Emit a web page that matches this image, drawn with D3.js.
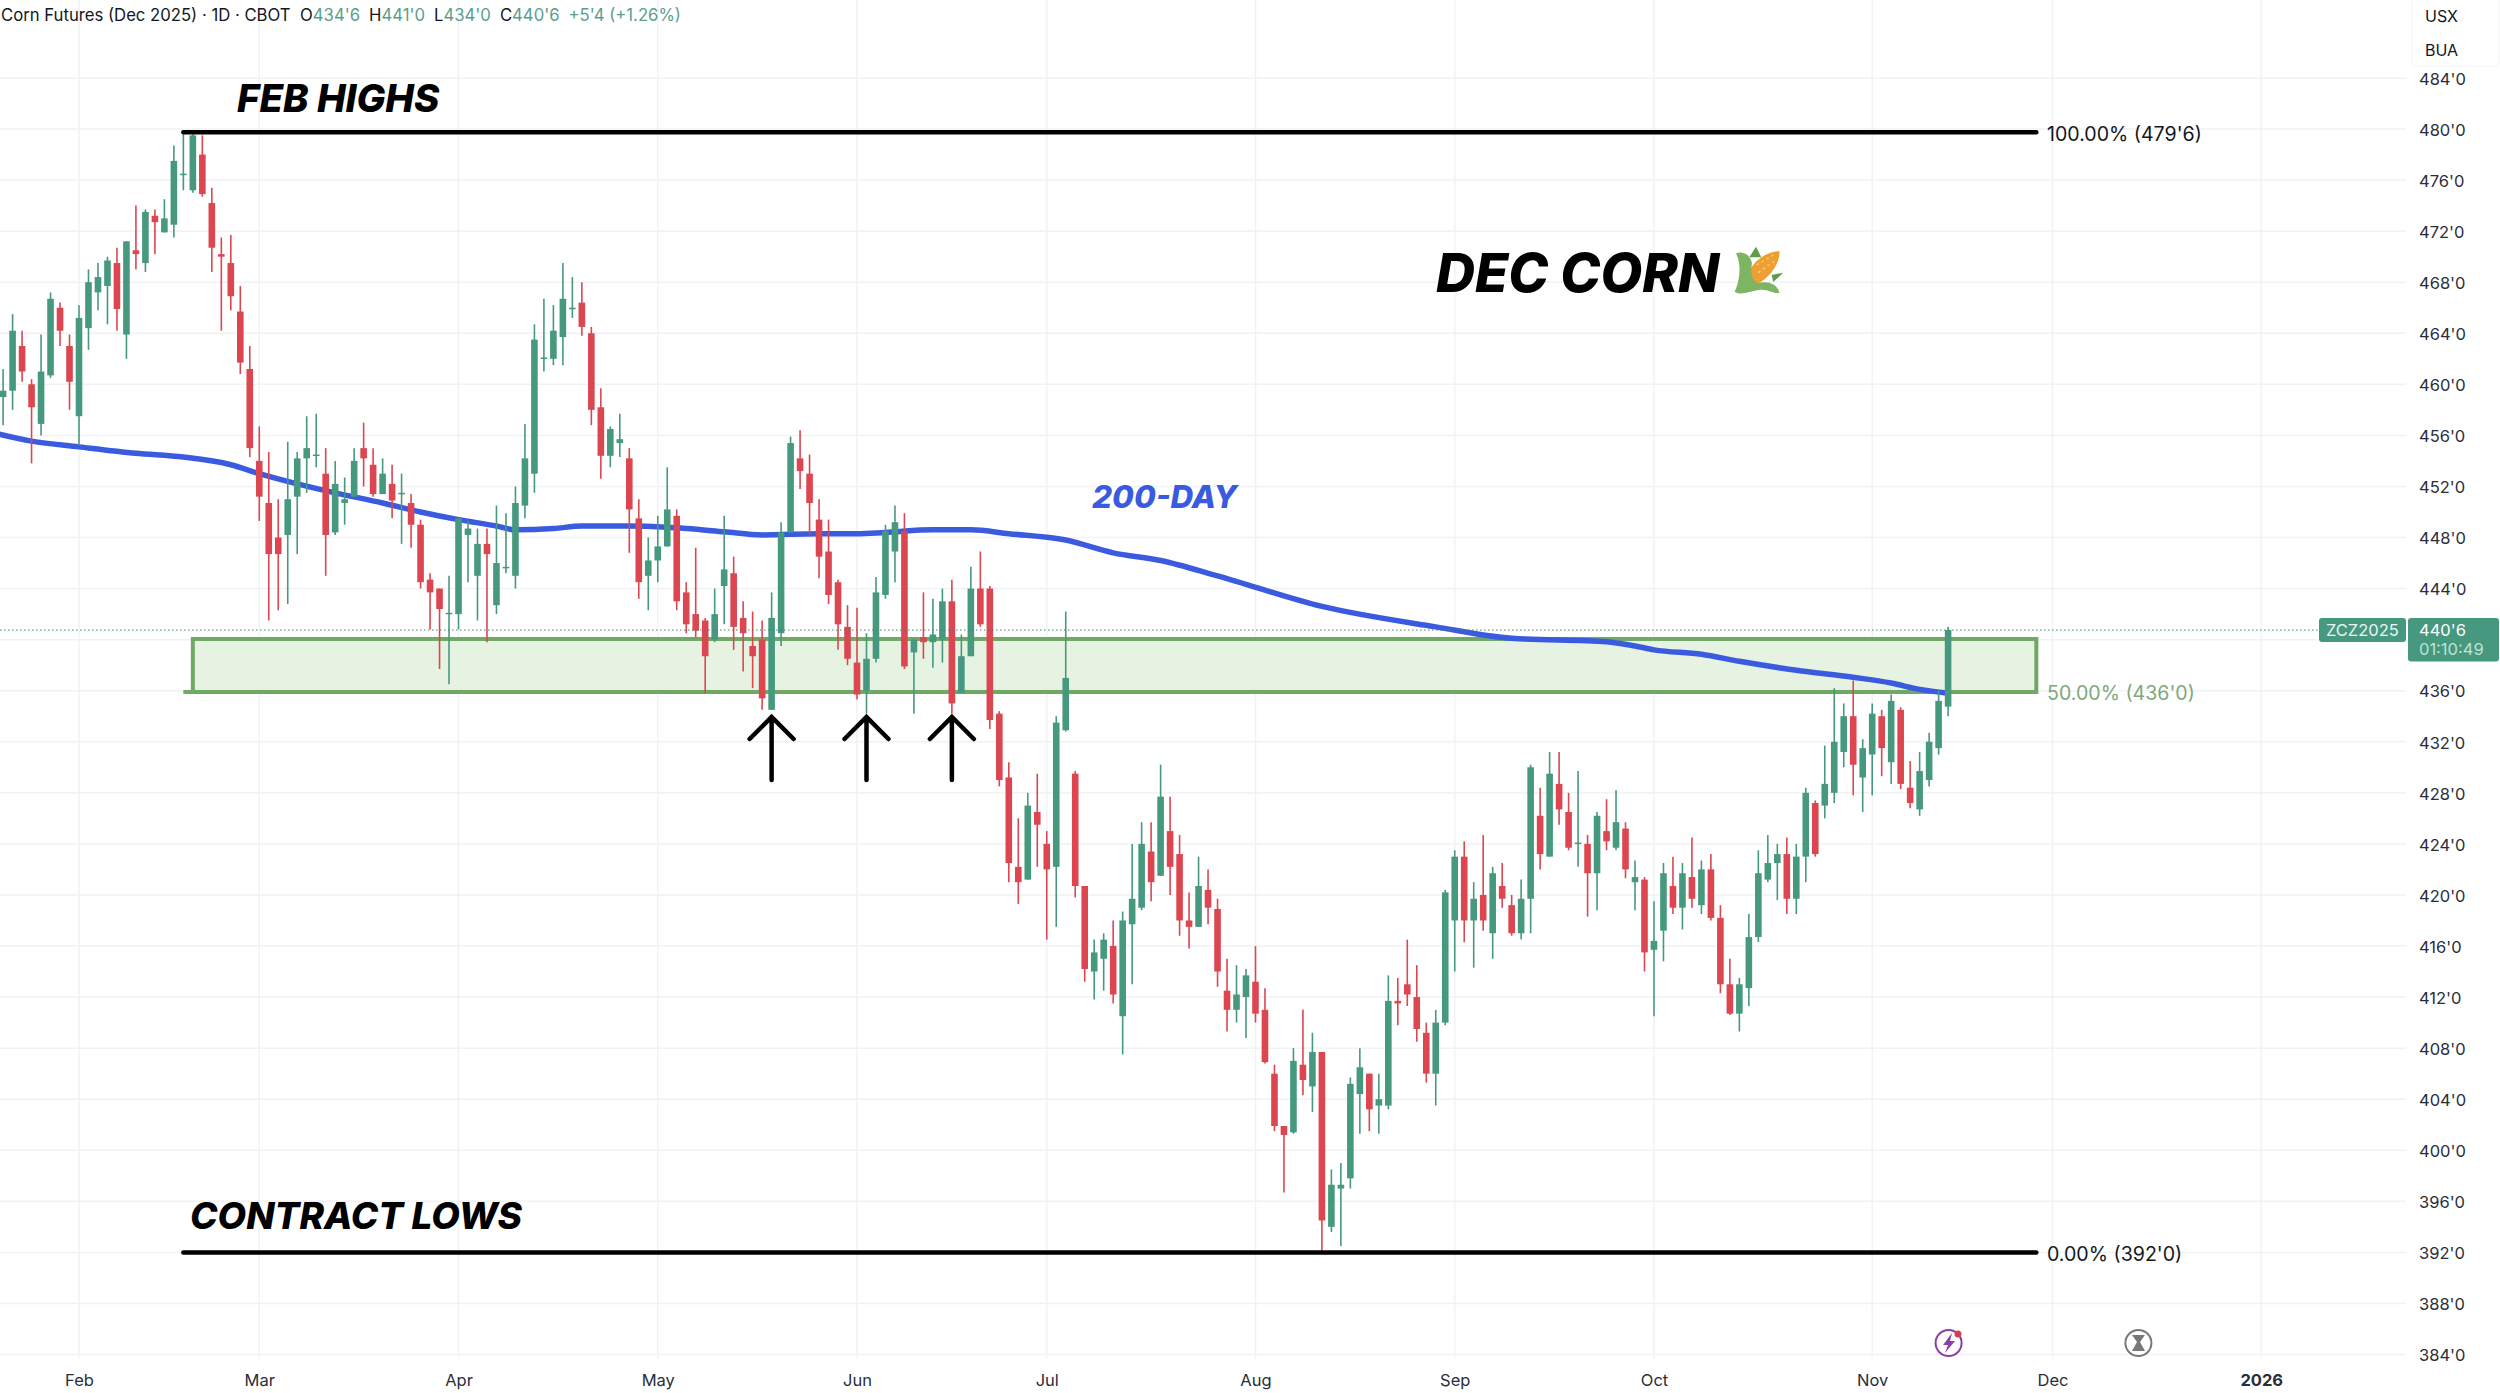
<!DOCTYPE html>
<html>
<head>
<meta charset="utf-8">
<style>
  html, body { margin: 0; padding: 0; background: #fff; }
  svg { display: block; }
  text { font-family: Inter, 'Noto Sans', sans-serif; }
</style>
</head>
<body>
<div id="chart"></div>
<script src="https://cdn.jsdelivr.net/npm/d3@7"></script>
<script>
// daily bars (cents, first bar is late Jan)
const opens = [
  459.0, 459.5, 463.0, 460.0, 456.9, 460.7, 466.0, 463.0, 457.5, 464.4,
  467.2, 467.7, 469.5, 463.9, 470.5, 469.5, 473.2, 471.9, 472.5, 476.4,
  475.2, 478.0, 474.2, 470.2, 469.5, 465.7, 461.2, 454.0, 450.7, 448.0,
  448.2, 451.2, 454.2, 454.4, 453.0, 448.4, 450.7, 451.2, 455.0, 453.7,
  451.4, 452.2, 451.4, 450.7, 449.0, 444.7, 444.0, 442.0, 442.0, 448.2,
  445.0, 447.5, 442.7, 445.6, 445.0, 450.5, 453.0, 462.0, 462.0, 463.7,
  465.9, 466.4, 464.0, 458.2, 454.4, 455.4, 454.2, 449.5, 445.0, 446.2,
  447.3, 449.7, 443.7, 442.0, 441.5, 440.0, 444.2, 445.2, 441.7, 439.5,
  440.0, 434.5, 440.5, 448.4, 454.2, 453.0, 449.4, 446.9, 444.5, 441.0,
  438.2, 436.0, 438.5, 443.5, 446.9, 448.5, 439.0, 440.2, 439.8, 440.0,
  443.0, 435.8, 438.7, 444.0, 444.0, 434.2, 429.2, 422.2, 421.2, 426.5,
  424.0, 422.2, 432.9, 429.5, 420.7, 414.0, 415.0, 416.0, 410.5, 417.7,
  419.0, 423.4, 421.5, 425.0, 423.2, 418.0, 417.5, 420.4, 418.9, 412.5,
  411.0, 412.0, 413.2, 411.0, 406.0, 401.9, 401.4, 406.7, 405.0, 407.7,
  394.0, 397.0, 397.8, 404.4, 406.0, 403.5, 403.5, 411.7, 413.0, 412.0,
  409.2, 406.0, 410.0, 418.0, 423.0, 418.0, 420.0, 417.0, 420.7, 419.2,
  417.0, 419.7, 426.2, 423.0, 428.7, 426.5, 424.0, 424.0, 421.7, 425.0,
  423.7, 425.2, 421.0, 421.2, 415.7, 417.2, 420.7, 419.0, 421.4, 419.2,
  422.0, 418.2, 413.0, 410.7, 412.7, 416.7, 421.2, 422.5, 423.2, 419.7,
  423.0, 427.2, 427.0, 428.0, 431.2, 434.0, 429.2, 431.0, 434.0, 430.4,
  434.5, 428.4, 426.7, 429.0, 431.5, 434.75,
];
const closes = [
  459.5, 464.2, 461.0, 458.2, 461.0, 466.7, 464.2, 460.2, 465.2, 468.0,
  468.4, 469.7, 465.9, 471.2, 470.2, 473.5, 472.7, 473.0, 477.5, 476.5,
  479.5, 474.9, 470.7, 470.0, 466.9, 461.7, 455.0, 451.2, 446.7, 446.7,
  451.0, 454.2, 455.0, 454.5, 448.2, 452.2, 451.0, 454.0, 454.2, 451.4,
  453.0, 450.9, 451.5, 449.0, 444.5, 443.7, 442.4, 442.1, 449.5, 448.7,
  447.5, 446.7, 446.0, 445.7, 450.7, 454.2, 463.5, 462.1, 464.2, 466.7,
  466.0, 464.5, 458.0, 454.4, 456.5, 455.7, 450.2, 444.5, 446.2, 447.3,
  450.2, 443.0, 441.2, 440.7, 438.7, 442.0, 445.5, 441.0, 440.5, 438.7,
  435.4, 441.7, 448.4, 455.4, 453.2, 450.7, 446.5, 443.5, 441.2, 438.5,
  435.7, 438.5, 443.7, 448.5, 449.2, 437.9, 440.0, 439.8, 440.4, 443.0,
  435.0, 438.7, 444.0, 441.2, 433.7, 429.0, 422.5, 421.0, 427.0, 425.5,
  422.0, 433.5, 437.0, 420.7, 414.2, 415.5, 416.5, 412.2, 418.0, 419.7,
  424.0, 421.0, 427.7, 422.2, 418.0, 417.5, 420.7, 419.0, 414.0, 411.0,
  412.2, 413.7, 410.7, 406.9, 401.9, 401.2, 407.0, 405.5, 407.7, 394.5,
  397.3, 397.3, 405.2, 406.5, 403.2, 404.0, 411.7, 411.5, 412.2, 409.5,
  406.0, 410.0, 420.2, 423.0, 418.0, 419.7, 418.0, 421.7, 419.7, 417.0,
  419.7, 430.0, 423.2, 429.5, 426.7, 423.7, 424.1, 421.7, 426.2, 424.2,
  425.7, 422.0, 421.4, 415.5, 416.4, 421.7, 419.0, 421.7, 419.7, 422.0,
  418.2, 413.0, 410.7, 413.0, 416.7, 421.7, 422.5, 423.2, 419.7, 423.0,
  428.0, 423.2, 428.7, 432.0, 434.0, 430.2, 431.5, 434.2, 431.5, 435.2,
  428.7, 427.2, 429.7, 432.0, 435.2, 440.75,
];
const highs = [
  461.2, 465.5, 464.2, 460.4, 463.9, 467.2, 466.4, 463.9, 466.2, 469.0,
  469.5, 470.0, 470.7, 471.2, 474.0, 473.7, 473.7, 474.5, 478.7, 479.75,
  479.75, 479.5, 475.4, 471.5, 471.7, 467.7, 463.0, 456.7, 454.7, 451.0,
  455.5, 454.7, 457.5, 457.7, 455.0, 454.0, 452.7, 455.0, 457.0, 455.0,
  454.2, 453.7, 453.0, 451.4, 449.4, 445.2, 444.0, 445.0, 449.5, 449.3,
  448.7, 448.7, 450.5, 449.9, 452.0, 456.9, 464.7, 466.7, 466.2, 469.5,
  468.4, 468.0, 464.5, 459.7, 456.7, 457.7, 455.0, 451.0, 448.0, 449.7,
  453.5, 450.2, 444.5, 447.2, 441.7, 444.0, 449.7, 446.5, 443.0, 442.2,
  441.5, 443.7, 449.2, 455.9, 456.4, 454.5, 451.0, 449.4, 444.7, 442.7,
  442.5, 440.5, 444.9, 449.0, 450.5, 449.9, 440.0, 443.7, 443.2, 444.0,
  444.7, 440.4, 445.7, 446.9, 444.2, 434.4, 430.4, 426.0, 428.0, 429.5,
  425.0, 434.0, 442.2, 429.7, 420.7, 416.5, 417.0, 418.0, 418.7, 424.0,
  425.7, 425.7, 430.2, 427.7, 424.7, 420.2, 423.0, 422.0, 419.7, 415.0,
  414.5, 414.2, 416.0, 412.7, 406.7, 401.9, 408.0, 411.0, 409.2, 407.7,
  398.5, 399.0, 405.7, 408.0, 406.0, 406.0, 413.7, 413.5, 416.5, 414.5,
  410.0, 411.0, 420.4, 423.5, 424.2, 421.0, 424.7, 422.2, 422.5, 420.0,
  421.2, 430.2, 428.4, 431.2, 431.2, 428.0, 429.7, 424.7, 426.5, 427.5,
  428.2, 425.7, 422.7, 421.4, 419.5, 422.5, 423.0, 422.5, 424.5, 422.7,
  423.2, 419.2, 415.0, 413.5, 418.5, 423.5, 424.7, 424.0, 424.5, 424.0,
  428.4, 427.4, 431.7, 436.2, 435.0, 436.8, 432.2, 435.0, 434.5, 435.7,
  434.7, 430.5, 431.2, 432.7, 436.0, 441.0,
];
const lows = [
  456.8, 458.0, 460.2, 453.8, 456.0, 460.5, 463.0, 458.0, 455.2, 462.7,
  465.8, 464.7, 464.2, 462.0, 469.0, 468.8, 470.2, 471.9, 471.5, 475.2,
  475.0, 474.7, 468.8, 464.2, 465.8, 460.8, 454.3, 449.3, 441.5, 442.3,
  442.8, 446.7, 451.5, 453.5, 445.0, 448.2, 449.0, 451.2, 452.0, 451.2,
  451.4, 449.5, 447.5, 447.2, 444.0, 440.8, 437.7, 436.5, 440.8, 444.5,
  441.5, 439.8, 442.0, 445.2, 444.0, 449.5, 451.5, 461.0, 461.5, 461.5,
  465.2, 463.8, 456.8, 452.6, 453.5, 454.3, 446.8, 443.2, 442.3, 444.5,
  447.3, 442.3, 440.5, 440.2, 435.8, 439.8, 441.2, 439.2, 437.5, 436.2,
  434.5, 434.5, 439.5, 448.4, 451.8, 448.2, 444.8, 442.8, 439.2, 438.0,
  435.3, 434.2, 438.2, 443.2, 444.5, 437.7, 434.2, 438.5, 437.8, 438.2,
  434.2, 435.8, 438.7, 441.0, 433.0, 428.5, 421.0, 419.3, 421.2, 422.2,
  416.5, 417.5, 432.8, 419.8, 413.2, 411.8, 412.5, 411.5, 407.5, 413.0,
  418.8, 419.5, 421.5, 420.0, 416.8, 415.8, 417.5, 417.7, 412.8, 409.3,
  410.0, 408.8, 410.0, 406.8, 401.5, 396.7, 401.3, 404.3, 403.0, 392.1,
  393.6, 392.5, 397.0, 401.3, 401.5, 401.3, 403.2, 409.8, 411.3, 408.5,
  405.3, 403.5, 409.8, 414.0, 416.3, 414.3, 417.2, 415.0, 419.0, 416.8,
  416.5, 417.0, 422.0, 423.0, 425.5, 423.5, 422.2, 418.3, 418.8, 423.5,
  423.5, 421.3, 418.8, 414.0, 410.5, 414.8, 418.5, 417.3, 419.0, 418.5,
  418.0, 412.3, 410.6, 409.3, 411.3, 416.3, 421.0, 419.6, 418.5, 418.5,
  421.0, 423.0, 426.0, 427.2, 430.0, 427.8, 426.5, 427.8, 429.3, 428.7,
  428.3, 426.8, 426.2, 428.5, 431.0, 434.0,
];

// 200-day average, read at these bars
const maBars = [-1, 3, 8, 14, 19, 24, 27, 31, 35, 40, 44, 48, 52, 54, 58, 61, 66, 70, 72, 76, 80, 86, 90, 93, 98, 102,
  106, 112, 117, 122, 128, 139, 151, 159, 169, 172, 174, 179, 183, 189, 195, 199, 202, 205];
const maValues = [456.2, 455.55, 455.1, 454.6, 454.3, 453.7, 453.0, 452.2, 451.5, 450.7, 450.0, 449.4, 448.9, 448.6, 448.7, 448.9,
  448.9, 448.8, 448.7, 448.45, 448.2, 448.3, 448.3, 448.4, 448.6, 448.6, 448.3, 447.8, 446.8, 446.2, 445.0, 442.6,
  441.0, 440.1, 439.84, 439.5, 439.2, 438.85, 438.3, 437.6, 437.05, 436.6, 436.1, 435.8];

const monthBars = [8, 27, 48, 69, 90, 110, 132, 153, 174, 197, 216, 238];
const monthLabels = ['Feb', 'Mar', 'Apr', 'May', 'Jun', 'Jul', 'Aug', 'Sep', 'Oct', 'Nov', 'Dec', '2026'];
const priceTicks = d3.range(384, 485, 4);
// 440'0 sits behind the last price tag
const priceLabels = priceTicks.filter((d) => d !== 440);

const fibHigh = 479.75;
const fibMid = 436;
const fibLow = 392;
const zoneTop = 440.05;
const zoneBottom = 435.9;
const lastPrice = 440.75;
const fibStartBar = 19;
const fibEndBar = 214.3;
const zoneStartBar = 20;
const arrowBars = [81, 91, 100];

const width = 2500;
const height = 1393;
const green = '#46997f';
const red = '#dc4650';

const x = d3.scaleLinear().domain([0, 205]).range([3.1, 1948.1]);
const y = d3.scaleLinear().domain([480, 384]).range([129, 1354.5]);

const svg = d3.select('#chart')
  .append('svg')
  .attr('width', width)
  .attr('height', height)
  .attr('viewBox', `0 0 ${width} ${height}`);

// grid
svg.append('g')
  .selectAll('line')
  .data(priceTicks)
  .enter()
  .append('line')
  .attr('x1', 0)
  .attr('x2', 2406)
  .attr('y1', (d) => y(d))
  .attr('y2', (d) => y(d))
  .attr('stroke', '#f1f2f5')
  .attr('stroke-width', 1.5);

svg.append('g')
  .selectAll('line')
  .data(monthBars)
  .enter()
  .append('line')
  .attr('x1', (d) => x(d))
  .attr('x2', (d) => x(d))
  .attr('y1', 0)
  .attr('y2', 1358)
  .attr('stroke', '#f1f2f5')
  .attr('stroke-width', 1.5);

// axes
const yAxis = d3.axisRight(y)
  .tickValues(priceLabels)
  .tickSize(0)
  .tickPadding(0)
  .tickFormat((d) => `${d}'0`);

const yAxisG = svg.append('g')
  .attr('transform', 'translate(2419,1)')
  .call(yAxis);
yAxisG.select('.domain').remove();
yAxisG.selectAll('text')
  .style('font-family', 'Inter, sans-serif')
  .style('font-size', '16.5px')
  .attr('fill', '#2a2e39');

const xAxis = d3.axisBottom(x)
  .tickValues(monthBars)
  .tickSize(0)
  .tickPadding(0)
  .tickFormat((d, i) => monthLabels[i]);

const xAxisG = svg.append('g')
  .attr('transform', 'translate(0,1374.5)')
  .call(xAxis);
xAxisG.select('.domain').remove();
xAxisG.selectAll('text')
  .style('font-family', 'Inter, sans-serif')
  .style('font-size', '16.5px')
  .style('font-weight', (d, i) => (monthLabels[i] === '2026' ? 700 : 400))
  .attr('fill', '#2a2e39');

// support zone and fib levels
svg.append('rect')
  .attr('x', x(zoneStartBar))
  .attr('y', y(zoneTop))
  .attr('width', x(fibEndBar) - x(zoneStartBar))
  .attr('height', y(zoneBottom) - y(zoneTop))
  .attr('fill', '#e6f2e2')
  .attr('stroke', '#6fa965')
  .attr('stroke-width', 4);

svg.append('line')
  .attr('x1', x(fibStartBar))
  .attr('x2', x(fibEndBar))
  .attr('y1', y(zoneBottom))
  .attr('y2', y(zoneBottom))
  .attr('stroke', '#6fa965')
  .attr('stroke-width', 4);

// 200-day
const maLine = d3.line()
  .x((d) => x(d[0]))
  .y((d) => y(d[1]))
  .curve(d3.curveMonotoneX);

svg.append('path')
  .datum(d3.zip(maBars, maValues))
  .attr('d', maLine)
  .attr('fill', 'none')
  .attr('stroke', '#3a5be0')
  .attr('stroke-width', 5.5);

// candles
const bars = d3.range(opens.length).map((i) => ({
  i, o: opens[i], h: highs[i], l: lows[i], c: closes[i],
}));

const candle = svg.append('g')
  .selectAll('g')
  .data(bars)
  .enter()
  .append('g')
  .attr('fill', (d) => (d.c >= d.o ? green : red))
  .attr('stroke', (d) => (d.c >= d.o ? green : red));

candle.append('line')
  .attr('x1', (d) => x(d.i))
  .attr('x2', (d) => x(d.i))
  .attr('y1', (d) => y(d.h))
  .attr('y2', (d) => y(d.l))
  .attr('stroke-width', 1.6);

candle.append('rect')
  .attr('x', (d) => x(d.i) - 3.3)
  .attr('width', 6.6)
  .attr('y', (d) => y(Math.max(d.o, d.c)))
  .attr('height', (d) => Math.max(1.5, Math.abs(y(d.o) - y(d.c))))
  .attr('stroke', 'none');

// black fib lines
svg.append('g')
  .selectAll('line')
  .data([fibHigh, fibLow])
  .enter()
  .append('line')
  .attr('x1', x(fibStartBar))
  .attr('x2', x(fibEndBar))
  .attr('y1', (d) => y(d))
  .attr('y2', (d) => y(d))
  .attr('stroke', '#000')
  .attr('stroke-linecap', 'round')
  .attr('stroke-width', 4.5);

// last price dots and tags
svg.append('line')
  .attr('x1', 0)
  .attr('x2', 2319)
  .attr('y1', y(lastPrice))
  .attr('y2', y(lastPrice))
  .attr('stroke', '#4d7f70')
  .attr('stroke-width', 1)
  .attr('stroke-dasharray', '1.5 2.5');

svg.append('rect')
  .attr('x', 2319)
  .attr('y', 618)
  .attr('width', 87)
  .attr('height', 24)
  .attr('rx', 3)
  .attr('fill', green);
svg.append('rect')
  .attr('x', 2408)
  .attr('y', 618)
  .attr('width', 91)
  .attr('height', 43.5)
  .attr('rx', 3)
  .attr('fill', green);

const tagText = [
  { t: 'ZCZ2025', x: 2326, y: 630, c: '#e9f5f1' },
  { t: "440'6", x: 2419, y: 630, c: '#fff' },
  { t: '01:10:49', x: 2419, y: 649.5, c: '#bfe2d6' },
];
svg.append('g')
  .selectAll('text')
  .data(tagText)
  .enter()
  .append('text')
  .attr('x', (d) => d.x)
  .attr('y', (d) => d.y)
  .attr('dy', '0.36em')
  .attr('fill', (d) => d.c)
  .style('font-size', '16.5px')
  .text((d) => d.t);

// fib labels
const fibLabels = [
  { t: "100.00% (479'6)", p: fibHigh, c: '#131722' },
  { t: "50.00% (436'0)", p: fibMid, c: '#7fa877' },
  { t: "0.00% (392'0)", p: fibLow, c: '#131722' },
];
svg.append('g')
  .selectAll('text')
  .data(fibLabels)
  .enter()
  .append('text')
  .attr('x', 2047)
  .attr('y', (d) => y(d.p) + 2)
  .attr('dy', '0.36em')
  .attr('fill', (d) => d.c)
  .style('font-size', '19.6px')
  .text((d) => d.t);

// big notes
const notes = [
  { t: 'FEB HIGHS', x: 237, y: 112, s: 38.3, c: '#000' },
  { t: 'CONTRACT LOWS', x: 190, y: 1229, s: 37, c: '#000' },
  { t: 'DEC CORN', x: 1436, y: 291.5, s: 54, c: '#000' },
  { t: '200-DAY', x: 1092, y: 507.5, s: 31.5, c: '#3a5be0' },
];
svg.append('g')
  .selectAll('text')
  .data(notes)
  .enter()
  .append('text')
  .attr('x', (d) => d.x)
  .attr('y', (d) => d.y)
  .attr('fill', (d) => d.c)
  .style('font-size', (d) => `${d.s}px`)
  .style('font-weight', 800)
  .style('font-style', 'italic')
  .text((d) => d.t);

// arrows under the three lows
svg.append('g')
  .attr('fill', 'none')
  .attr('stroke', '#000')
  .attr('stroke-width', 4.5)
  .attr('stroke-linecap', 'round')
  .selectAll('path')
  .data(arrowBars)
  .enter()
  .append('path')
  .attr('d', (d) => `M${x(d)},780 L${x(d)},717 M${x(d) - 22},739 L${x(d)},717 L${x(d) + 22},739`);

// header
const header = svg.append('text')
  .attr('x', 1)
  .attr('y', 15)
  .attr('dy', '0.36em')
  .style('font-size', '16.7px')
  .attr('fill', '#131722');
const headerParts = [
  ['Corn Futures (Dec 2025) · 1D · CBOT', 0],
  ['O', 10], ["434'6", 0],
  ['H', 9], ["441'0", 0],
  ['L', 9], ["434'0", 0],
  ['C', 9], ["440'6", 0],
  ["+5'4 (+1.26%)", 9],
];
header.selectAll('tspan')
  .data(headerParts)
  .enter()
  .append('tspan')
  .attr('dx', (d) => d[1])
  .attr('fill', (d, i) => (i > 0 && (i % 2 === 0 || i === 9) ? '#5b9e8a' : '#131722'))
  .text((d) => d[0]);

// currency and unit box
svg.append('rect')
  .attr('x', 2412)
  .attr('y', -6)
  .attr('width', 87)
  .attr('height', 72)
  .attr('rx', 4)
  .attr('fill', '#fff')
  .attr('stroke', '#f3f4f6');
svg.append('text').attr('x', 2425).attr('y', 16).attr('dy', '0.36em')
  .attr('fill', '#131722').style('font-size', '16px').text('USX');
svg.append('text').attr('x', 2425).attr('y', 50).attr('dy', '0.36em')
  .attr('fill', '#131722').style('font-size', '16px').text('BUA');

// corn emoji, drawn by hand
const corn = svg.append('g').attr('transform', 'translate(1400,220) scale(0.3333)');
corn.append('path').attr('fill', '#5d9c48').attr('d', 'M1048,112 L1068,80 L1084,112 Z');
corn.append('path').attr('fill', '#5d9c48').attr('d', 'M1115,165 L1150,158 L1120,186 Z');
corn.append('path').attr('fill', '#ee9f33')
  .attr('d', 'M1040,185 C1045,130 1095,95 1138,93 C1142,132 1105,178 1065,195 Z');
corn.append('path').attr('stroke', '#f7cf72').attr('stroke-width', 4).attr('stroke-dasharray', '8 9').attr('fill', 'none')
  .attr('d', 'M1070,135 L1120,105 M1075,158 L1125,122');
corn.append('path').attr('fill', '#7db562')
  .attr('d', 'M1008,100 C1030,92 1052,105 1056,130 C1050,165 1058,178 1072,190 C1100,182 1132,190 1138,218 C1122,224 1105,205 1075,210 C1050,214 1022,228 1004,215 C1016,190 1028,140 1008,100 Z');

// chart event icons
svg.append('circle').attr('cx', 1948.6).attr('cy', 1343).attr('r', 13)
  .attr('fill', '#fff').attr('stroke', '#8a3fa8').attr('stroke-width', 2);
svg.append('path').attr('fill', '#8a3fa8').attr('d', 'M1952,1333 L1943,1345 L1948,1345 L1945,1353 L1955,1341 L1950,1341 Z');
svg.append('circle').attr('cx', 1958).attr('cy', 1334).attr('r', 3.5).attr('fill', '#d0434c');
svg.append('circle').attr('cx', 2138.4).attr('cy', 1343).attr('r', 13)
  .attr('fill', '#fff').attr('stroke', '#787878').attr('stroke-width', 2);
svg.append('path').attr('fill', '#787878').attr('d', 'M2132,1335 L2145,1335 L2140,1342 L2145,1351 L2132,1351 L2137,1342 Z');
</script>
</body>
</html>
